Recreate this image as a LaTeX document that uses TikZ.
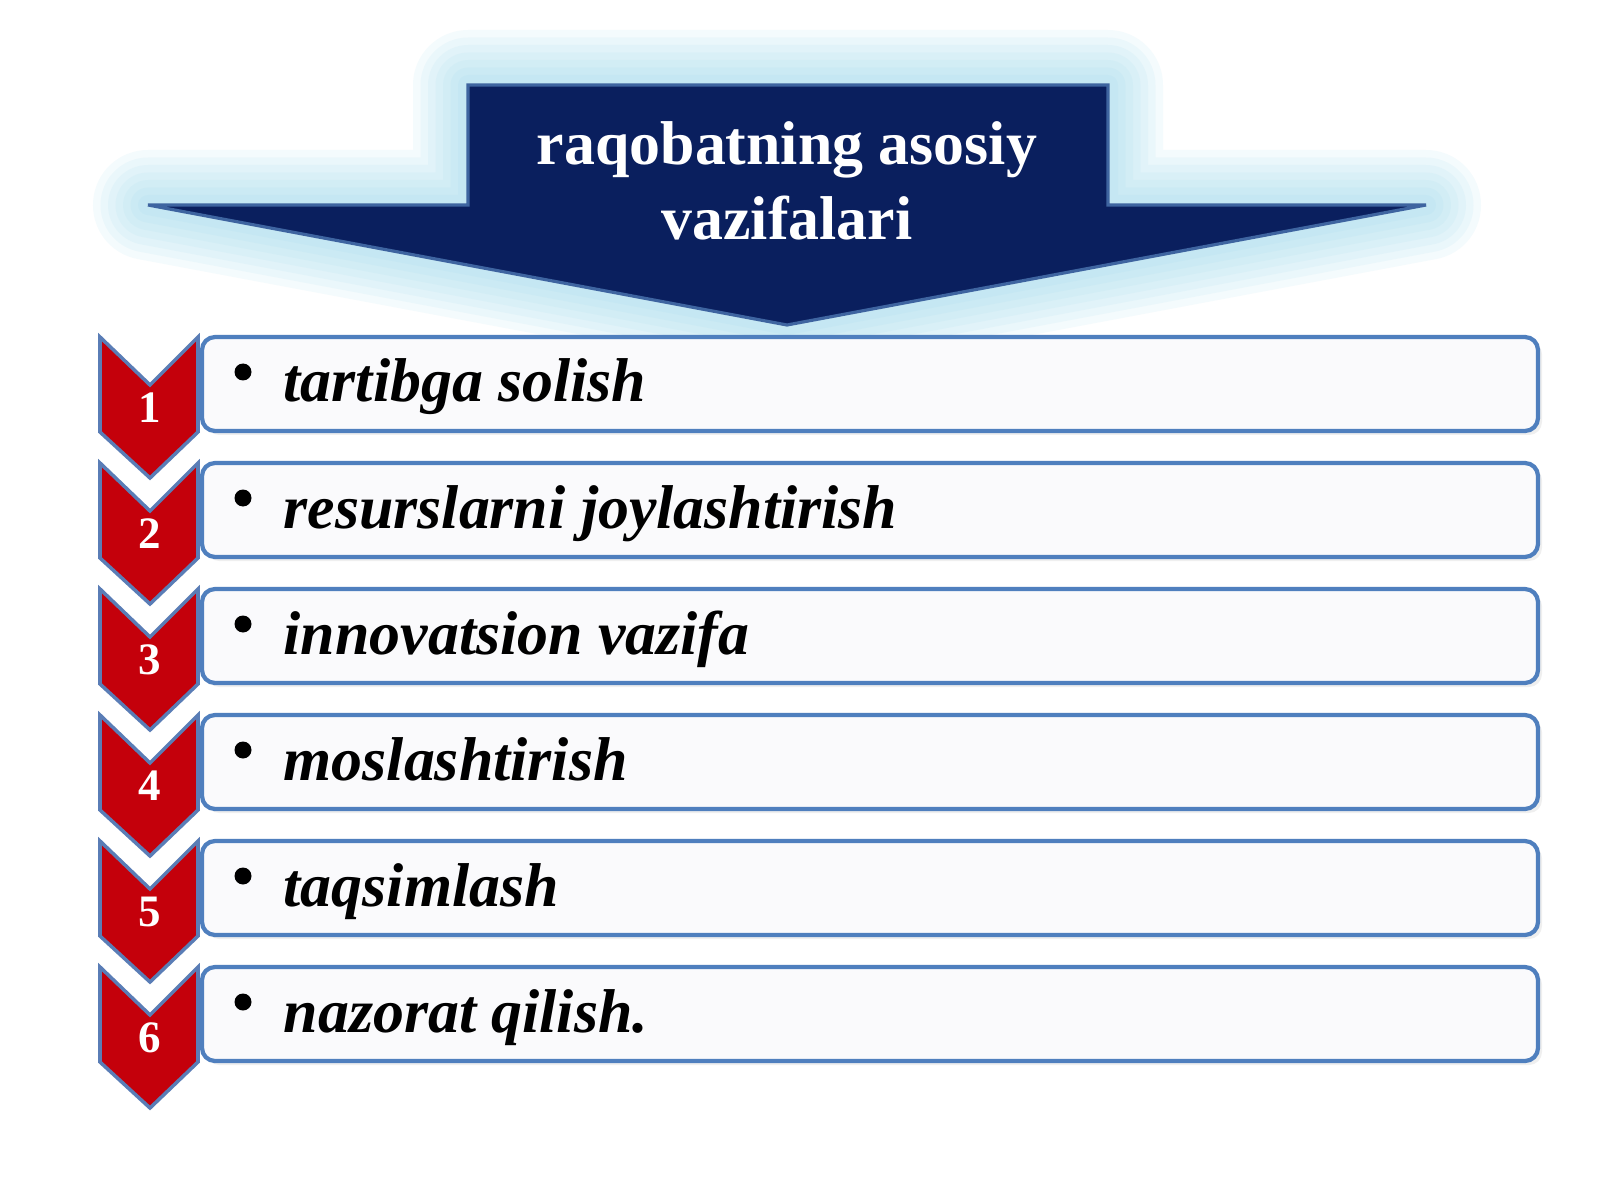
\documentclass[tikz,border=0pt]{standalone}
\usepackage{fontspec}
\setmainfont{Liberation Serif}
\usetikzlibrary{shadows}

\definecolor{navy}{HTML}{0A1F5E}
\definecolor{navyline}{HTML}{3E64A0}
\definecolor{glow}{HTML}{8ED3EA}
\definecolor{boxline}{HTML}{4F7FBE}
\definecolor{boxfill}{HTML}{FAFAFC}
\definecolor{chevred}{HTML}{C4000B}
\definecolor{chevline}{HTML}{5A7DB6}

\tikzset{
  halo/.style={preaction={draw=glow, line width=#1, opacity=0.09, line join=round}},
  headshape/.style={fill=navy, draw=navyline, line width=0.9pt, line join=miter,
    halo=11mm, halo=9.5mm, halo=8mm, halo=6.5mm, halo=5mm, halo=3.5mm, halo=2mm},
  taskbox/.style={rectangle, rounded corners=1.3mm, draw=boxline, line width=1.2pt,
    fill=boxfill, minimum width=133.6mm, minimum height=9.4mm, inner sep=0pt,
    drop shadow={opacity=0.12, shadow xshift=0.4mm, shadow yshift=-0.4mm}},
  tasktext/.style={anchor=base west, inner sep=0pt,
    font=\bfseries\itshape\fontsize{17.6}{20}\selectfont},
  dot/.style={circle, fill=black, minimum size=1.7mm, inner sep=0pt},
  num/.style={text=white, font=\bfseries\fontsize{12.8}{14}\selectfont},
  chevron/.pic={
    \draw[fill=chevred, draw=chevline, line width=1pt, line join=miter]
      (-50,0) -- (0,48) -- (48,0) -- (48,95) -- (0,141) -- (-50,95) -- cycle;
  }
}

\begin{document}
\begin{tikzpicture}[x=0.1mm, y=-0.1mm]
  \useasboundingbox[fill=white] (0,0) rectangle (1600,1200);

  % arrow at the top
  \draw[headshape] (468,85) -- (1108,85) -- (1108,205) -- (1426,205) -- (787,325)
    -- (148,205) -- (468,205) -- cycle;
  \node[text=white, align=center, font=\bfseries\fontsize{17.6}{21.3}\selectfont]
    (heading) at (787,181) {raqobatning asosiy\\vazifalari};

  \pic at (150,337) {chevron};
  \pic at (150,463) {chevron};
  \pic at (150,589) {chevron};
  \pic at (150,715) {chevron};
  \pic at (150,841) {chevron};
  \pic at (150,967) {chevron};

  \node[num] (num1) at (150,408) {1};
  \node[num] (num2) at (150,534) {2};
  \node[num] (num3) at (150,660) {3};
  \node[num] (num4) at (150,786) {4};
  \node[num] (num5) at (150,912) {5};
  \node[num] (num6) at (150,1038) {6};

  \node[taskbox] (box1) at (870,384) {};
  \node[taskbox] (box2) at (870,510) {};
  \node[taskbox] (box3) at (870,636) {};
  \node[taskbox] (box4) at (870,762) {};
  \node[taskbox] (box5) at (870,888) {};
  \node[taskbox] (box6) at (870,1014) {};

  \node[dot] (dot1) at (243,372) {};
  \node[dot] (dot2) at (243,498) {};
  \node[dot] (dot3) at (243,624) {};
  \node[dot] (dot4) at (243,750) {};
  \node[dot] (dot5) at (243,876) {};
  \node[dot] (dot6) at (243,1002) {};

  \node[tasktext] (task1) at (283,402) {tartibga solish};
  \node[tasktext] (task2) at (283,528) {resurslarni joylashtirish};
  \node[tasktext] (task3) at (283,654) {innovatsion vazifa};
  \node[tasktext] (task4) at (283,780) {moslashtirish};
  \node[tasktext] (task5) at (283,906) {taqsimlash};
  \node[tasktext] (task6) at (283,1032) {nazorat qilish.};
\end{tikzpicture}
\end{document}
